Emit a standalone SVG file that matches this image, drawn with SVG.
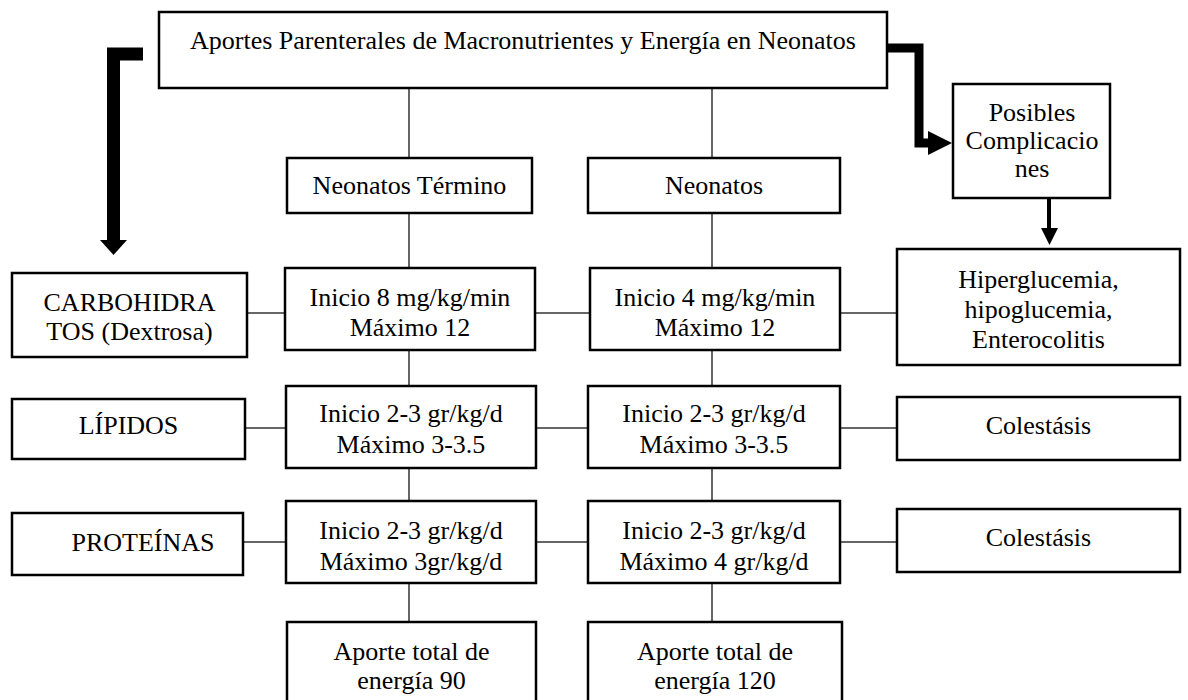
<svg xmlns="http://www.w3.org/2000/svg" width="1188" height="700" viewBox="0 0 1188 700">
<style>
.b{fill:#fff;stroke:#000;stroke-width:2.5}
.t{font-family:"Liberation Serif","Times New Roman",serif;font-size:26px;fill:#000;text-anchor:middle}
.c{stroke:#333;stroke-width:1.5;fill:none}
.k{stroke:#000;fill:none}
</style>
<rect width="1188" height="700" fill="#fff"/>
<g id="connectors">
<line class="c" x1="409" y1="88" x2="409" y2="158"/>
<line class="c" x1="712" y1="88" x2="712" y2="158"/>
<line class="c" x1="409" y1="213" x2="409" y2="268"/>
<line class="c" x1="712" y1="213" x2="712" y2="268"/>
<line class="c" x1="409" y1="350" x2="409" y2="386"/>
<line class="c" x1="712" y1="350" x2="712" y2="386"/>
<line class="c" x1="409" y1="468" x2="409" y2="501"/>
<line class="c" x1="712" y1="468" x2="712" y2="501"/>
<line class="c" x1="409" y1="583" x2="409" y2="622"/>
<line class="c" x1="712" y1="583" x2="712" y2="622"/>
<line class="c" x1="247" y1="313" x2="285" y2="313"/>
<line class="c" x1="535" y1="313" x2="590" y2="313"/>
<line class="c" x1="840" y1="313" x2="897" y2="313"/>
<line class="c" x1="245" y1="428" x2="286" y2="428"/>
<line class="c" x1="536" y1="428" x2="588" y2="428"/>
<line class="c" x1="840" y1="428" x2="897" y2="428"/>
<line class="c" x1="243" y1="542" x2="286" y2="542"/>
<line class="c" x1="536" y1="542" x2="588" y2="542"/>
<line class="c" x1="840" y1="542" x2="897" y2="542"/>
<path class="k" stroke-width="13" d="M143,54 H113.5 V241"/>
<polygon points="100,240 127,240 113.5,255" fill="#000"/>
<path class="k" stroke-width="9" d="M887,48 H919 V143 H930"/>
<polygon points="928,131 952,143 928,155" fill="#000"/>
<path class="k" stroke-width="4" d="M1049,198 V230"/>
<polygon points="1041,228 1058,228 1049.5,245" fill="#000"/>
</g>
<g id="title"><rect class="b" x="159" y="12" width="728" height="76"/><text class="t" x="523" y="49">Aportes Parenterales de Macronutrientes y Energía en Neonatos</text></g>
<g id="complicaciones"><rect class="b" x="953" y="84" width="157" height="114"/><text class="t" x="1032" y="121">Posibles</text><text class="t" x="1032" y="149">Complicacio</text><text class="t" x="1032" y="177">nes</text></g>
<g id="neonatos-termino"><rect class="b" x="287" y="158" width="245" height="55"/><text class="t" x="409.5" y="194">Neonatos Término</text></g>
<g id="neonatos"><rect class="b" x="588" y="158" width="252" height="55"/><text class="t" x="714" y="194">Neonatos</text></g>
<g id="carbohidratos"><rect class="b" x="12" y="273" width="235" height="84"/><text class="t" x="129.5" y="311">CARBOHIDRA</text><text class="t" x="129.5" y="340">TOS (Dextrosa)</text></g>
<g id="carb-termino"><rect class="b" x="285" y="268" width="250" height="82"/><text class="t" x="410" y="306">Inicio 8 mg/kg/min</text><text class="t" x="410" y="336">Máximo 12</text></g>
<g id="carb-neonatos"><rect class="b" x="590" y="268" width="250" height="82"/><text class="t" x="715" y="306">Inicio 4 mg/kg/min</text><text class="t" x="715" y="336">Máximo 12</text></g>
<g id="hiperglucemia"><rect class="b" x="897" y="249" width="283" height="116"/><text class="t" x="1038.5" y="288">Hiperglucemia,</text><text class="t" x="1038.5" y="318">hipoglucemia,</text><text class="t" x="1038.5" y="348">Enterocolitis</text></g>
<g id="lipidos"><rect class="b" x="12" y="399" width="233" height="60"/><text class="t" x="128.5" y="434">LÍPIDOS</text></g>
<g id="lip-termino"><rect class="b" x="286" y="386" width="250" height="82"/><text class="t" x="411" y="422">Inicio 2-3 gr/kg/d</text><text class="t" x="411" y="453">Máximo 3-3.5</text></g>
<g id="lip-neonatos"><rect class="b" x="588" y="386" width="252" height="82"/><text class="t" x="714" y="422">Inicio 2-3 gr/kg/d</text><text class="t" x="714" y="453">Máximo 3-3.5</text></g>
<g id="colestasis-1"><rect class="b" x="897" y="397" width="283" height="63"/><text class="t" x="1038.5" y="434">Colestásis</text></g>
<g id="proteinas"><rect class="b" x="12" y="513" width="231" height="62"/><text class="t" x="143" y="551">PROTEÍNAS</text></g>
<g id="prot-termino"><rect class="b" x="286" y="501" width="250" height="82"/><text class="t" x="411" y="539">Inicio 2-3 gr/kg/d</text><text class="t" x="411" y="570">Máximo 3gr/kg/d</text></g>
<g id="prot-neonatos"><rect class="b" x="588" y="501" width="252" height="82"/><text class="t" x="714" y="539">Inicio 2-3 gr/kg/d</text><text class="t" x="714" y="570">Máximo 4 gr/kg/d</text></g>
<g id="colestasis-2"><rect class="b" x="897" y="509" width="283" height="63"/><text class="t" x="1038.5" y="546">Colestásis</text></g>
<g id="energia-termino"><rect class="b" x="287" y="622" width="249" height="90"/><text class="t" x="411.5" y="660">Aporte total de</text><text class="t" x="411.5" y="689">energía 90</text></g>
<g id="energia-neonatos"><rect class="b" x="588" y="622" width="254" height="90"/><text class="t" x="715" y="660">Aporte total de</text><text class="t" x="715" y="689">energía 120</text></g>
</svg>
